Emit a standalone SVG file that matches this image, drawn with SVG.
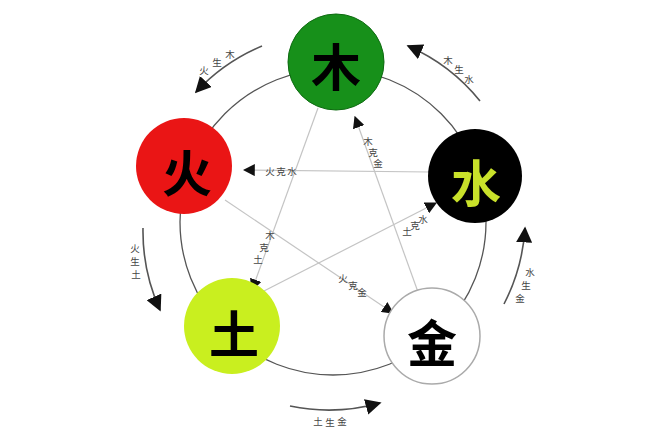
<svg xmlns="http://www.w3.org/2000/svg" width="650" height="428" viewBox="0 0 650 428">
<style>
.ring{fill:none;stroke:#555;stroke-width:1.3}
.star{fill:none;stroke:#c4c4c4;stroke-width:1.2}
.outer{fill:none;stroke:#555;stroke-width:1.6}
.big{font-family:"Noto Sans CJK SC","Noto Sans CJK JP",sans-serif;font-size:50px;font-weight:700;text-anchor:middle;dominant-baseline:central}
.small{font-family:"Noto Sans CJK SC","Noto Sans CJK JP",sans-serif;font-size:9.5px;fill:#444;text-anchor:middle;dominant-baseline:central}
</style>
<defs>
<marker id="ah" viewBox="0 0 10 10" refX="9" refY="5" markerWidth="12" markerHeight="12" markerUnits="userSpaceOnUse" orient="auto"><path d="M0,0 L10,5 L0,10 z" fill="#111"/></marker>
<marker id="ahb" viewBox="0 0 10 10" refX="9" refY="5" markerWidth="16" markerHeight="16" markerUnits="userSpaceOnUse" orient="auto"><path d="M0,0 L10,5 L0,10 z" fill="#111"/></marker>
</defs>
<rect width="650" height="428" fill="#fff"/>
<circle class="ring" cx="333" cy="222" r="153"/>
<g id="connectors">
<line class="star" x1="430" y1="172" x2="244" y2="170" marker-end="url(#ah)"/>
<line class="star" x1="418" y1="292" x2="355" y2="117" marker-end="url(#ah)"/>
<line class="star" x1="262" y1="292" x2="436" y2="203" marker-end="url(#ah)"/>
<line class="star" x1="318" y1="108" x2="252" y2="290" marker-end="url(#ah)"/>
<line class="star" x1="225" y1="200" x2="393" y2="313" marker-end="url(#ah)"/>
<path class="outer" d="M262,46 A190,190 0 0 0 196,92" marker-end="url(#ahb)"/>
<path class="outer" d="M480,101 A190,190 0 0 0 408,46" marker-end="url(#ahb)"/>
<path class="outer" d="M143,228 A190,190 0 0 0 160,310" marker-end="url(#ahb)"/>
<path class="outer" d="M504,304 A190,190 0 0 0 525,228" marker-end="url(#ahb)"/>
<path class="outer" d="M290,406 A190,190 0 0 0 380,403" marker-end="url(#ahb)"/>
</g>
<g id="labels">
<text class="small" x="230 217 204" y="54 62 70">木生火</text>
<text class="small" x="469 459 448" y="79 69 60">水生木</text>
<text class="small" x="135 135 136" y="248 261 274">火生土</text>
<text class="small" x="520 526 530" y="298 285 272">金生水</text>
<text class="small" x="318 330 342" y="421 422 421">土生金</text>
<text class="small" x="292 281 270" y="171 171 171">水克火</text>
<text class="small" x="378 373 368" y="163 152 141">金克木</text>
<text class="small" x="407 415 423" y="231 225 219">土克水</text>
<text class="small" x="270 264 258" y="235 247 259">木克土</text>
<text class="small" x="343 353 362" y="278 285 292">火克金</text>
</g>
<g id="wood"><circle cx="336" cy="62" r="48" fill="#17901a" stroke="#0d6a10" stroke-width="1"/><text class="big" x="336" y="64" fill="#000">木</text></g>
<g id="water"><circle cx="475" cy="176" r="47" fill="#000"/><text class="big" x="476" y="180" fill="#c9e12a">水</text></g>
<g id="fire"><circle cx="184" cy="166" r="48" fill="#ea1515"/><text class="big" x="187" y="170" fill="#000">火</text></g>
<g id="earth"><circle cx="232" cy="326" r="48" fill="#c9ef1f"/><text class="big" x="234" y="331" fill="#000">土</text></g>
<g id="metal"><circle cx="432" cy="336" r="48" fill="#fff" stroke="#aaa" stroke-width="1.5"/><text class="big" x="432" y="340" fill="#000">金</text></g>
</svg>
